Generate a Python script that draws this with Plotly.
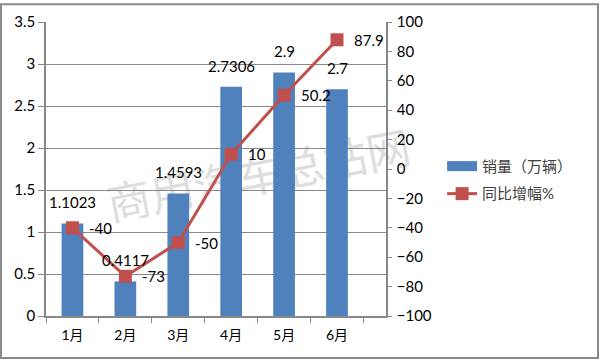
import plotly.graph_objects as go

months = ["1月", "2月", "3月", "4月", "5月", "6月"]
sales = [1.1023, 0.4117, 1.4593, 2.7306, 2.9, 2.7]
sales_labels = ["1.1023", "0.4117", "1.4593", "2.7306", "2.9", "2.7"]
growth = [-40, -73, -50, 10, 50.2, 87.9]
growth_labels = ["-40", "-73", "-50", "10", "50.2", "87.9"]
left_ticks = [0, 0.5, 1, 1.5, 2, 2.5, 3, 3.5]
left_ticktext = ["0", "0.5", "1", "1.5", "2", "2.5", "3", "3.5"]
right_ticks = list(range(-100, 101, 20))

FONT = "Lato, 'Noto Sans CJK SC', sans-serif"
GRID = "#888888"
BLUE = "#4F81BD"
RED = "#C0504D"

fig = go.Figure()
fig.add_trace(go.Bar(x=months, y=sales, name="销量（万辆）", marker=dict(color=BLUE, line=dict(width=0)),
                     width=0.41, yaxis="y", showlegend=False))
# legend-only entry to show a wide bar swatch like the original
fig.add_trace(go.Scatter(x=[None], y=[None], name="销量（万辆）", mode="lines",
                         line=dict(color=BLUE, width=10), legendgroup="a", yaxis="y"))
fig.add_trace(go.Scatter(x=months, y=growth, name="同比增幅%", mode="lines+markers",
                         line=dict(color=RED, width=3), legendgroup="b",
                         marker=dict(symbol="square", size=13, color=RED), yaxis="y2"))

annotations = []
for m, v, t in zip(months, sales, sales_labels):
    annotations.append(dict(x=m, y=v, xref="x", yref="y", text=t, showarrow=False,
                            yanchor="bottom", yshift=10, font=dict(family=FONT, size=15, color="#000")))
for m, v, t in zip(months, growth, growth_labels):
    annotations.append(dict(x=m, y=v, xref="x", yref="y2", text=t, showarrow=False,
                            xanchor="left", yanchor="middle", xshift=15,
                            font=dict(family=FONT, size=15, color="#000")))

fig.update_layout(
    width=600, height=360,
    margin=dict(l=46, r=214, t=19, b=44),
    paper_bgcolor="white", plot_bgcolor="white",
    font=dict(family=FONT, size=14, color="#000"),
    bargap=0.59,
    xaxis=dict(type="category", tickson="boundaries", ticks="outside", ticklen=5, tickcolor=GRID,
               showline=True, linecolor=GRID, linewidth=1.5, showgrid=False, ticklabelstandoff=5,
               tickfont=dict(family=FONT, size=14, color="#000")),
    yaxis=dict(range=[0, 3.5], tickvals=left_ticks, ticktext=left_ticktext, showgrid=True,
               gridcolor=GRID, gridwidth=1, showline=True, linecolor=GRID, linewidth=1.5,
               ticks="outside", ticklen=6, tickcolor=GRID, zeroline=False,
               tickfont=dict(family=FONT, size=15, color="#000")),
    yaxis2=dict(range=[-100, 100], tickvals=right_ticks, overlaying="y", side="right",
                showgrid=False, showline=True, linecolor=GRID, linewidth=1.5, zeroline=False,
                ticks="outside", ticklen=4, tickcolor=GRID, ticklabelstandoff=2,
                tickfont=dict(family=FONT, size=15, color="#000")),
    legend=dict(x=1.165, y=0.463, xanchor="left", yanchor="middle", bgcolor="rgba(0,0,0,0)",
                font=dict(family=FONT, size=15, color="#404040"), itemwidth=30,
                tracegroupgap=5),
    annotations=annotations,
    shapes=[
        dict(type="line", xref="paper", yref="paper", x0=0.2235, y0=0.3737, x1=1.0324, y1=0.552,
             layer="below", line=dict(color="rgba(0,0,0,0)", width=0),
             label=dict(text="商用汽车总站网", textangle=-11, textposition="middle", yanchor="middle",
                        font=dict(family="'Noto Sans CJK SC', sans-serif", size=44, color="#dedede"))),
        dict(type="rect", xref="paper", yref="paper", x0=-0.1324, y0=-0.1431, x1=1.6235, y1=1.0606,
             line=dict(color="#8a8a8a", width=2), fillcolor="rgba(0,0,0,0)"),
    ],
)

fig.write_html("out.html", config={"displayModeBar": False},
               post_script="document.body.style.margin='0';")
